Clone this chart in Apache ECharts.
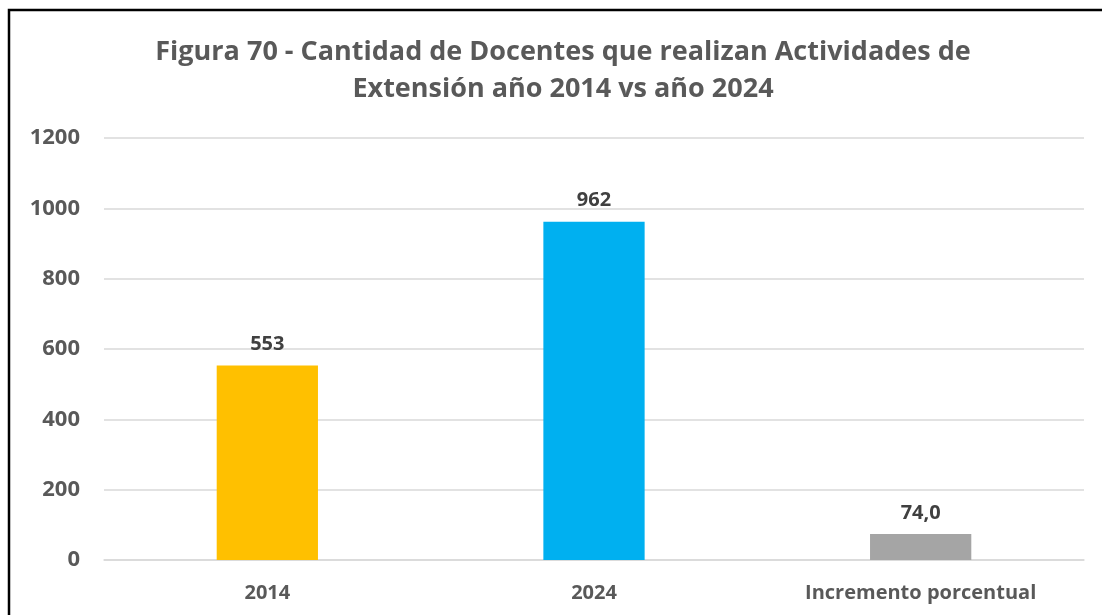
<!DOCTYPE html>
<html>
<head>
<meta charset="utf-8">
<script src="https://cdn.jsdelivr.net/npm/echarts@6/dist/echarts.min.js"></script>
<style>
  html, body { margin: 0; padding: 0; background: #fff; }
  #chart { width: 1102px; height: 615px; }
</style>
</head>
<body>
<div id="chart"></div>
<script>
// Docentes con actividades de extensión: 2014 vs 2024
const categories = ['2014', '2024', 'Incremento porcentual'];
const values = [553, 962, 74.0];
const valueLabels = ['553', '962', '74,0'];
const barColors = ['#FFC000', '#00B0F0', '#A5A5A5'];
const yTicks = [0, 200, 400, 600, 800, 1000, 1200];

const fontFamily = '"Open Sans", Lato, sans-serif';

const chart = echarts.init(document.getElementById('chart'));
chart.setOption({
  animation: false,
  backgroundColor: '#fff',
  title: {
    text: 'Figura 70 - Cantidad de Docentes que realizan Actividades de\nExtensión año 2014 vs año 2024',
    left: 558,
    textAlign: 'center',
    top: 29,
    textStyle: {
      fontFamily: fontFamily,
      fontSize: 27,
      fontWeight: 'bold',
      color: '#595959',
      lineHeight: 37
    }
  },
  graphic: [{
    type: 'rect',
    shape: { x: 9, y: 10, width: 1300, height: 800 },
    style: { fill: 'none', stroke: '#000', lineWidth: 2.5 },
    silent: true
  }],
  grid: { left: 104, right: 18, top: 138, bottom: 55, containLabel: false },
  xAxis: {
    type: 'category',
    data: categories,
    axisLine: { show: true, lineStyle: { color: '#d9d9d9', width: 1.5 } },
    axisTick: { show: false },
    axisLabel: {
      fontFamily: fontFamily,
      fontSize: 20,
      fontWeight: 'bold',
      color: '#595959',
      margin: 23
    }
  },
  yAxis: {
    type: 'value',
    min: yTicks[0],
    max: yTicks[yTicks.length - 1],
    interval: 200,
    axisLine: { show: false },
    axisTick: { show: false },
    splitLine: { lineStyle: { color: '#d9d9d9', width: 1.5 } },
    axisLabel: {
      fontFamily: fontFamily,
      fontSize: 22,
      fontWeight: 'bold',
      color: '#595959',
      margin: 24,
      formatter: v => String(v)
    }
  },
  series: [{
    type: 'bar',
    barWidth: '31%',
    data: values.map((v, i) => ({ value: v, itemStyle: { color: barColors[i] } })),
    label: {
      show: true,
      position: 'top',
      distance: 11,
      formatter: p => valueLabels[p.dataIndex],
      fontFamily: fontFamily,
      fontSize: 20,
      fontWeight: 'bold',
      color: '#404040'
    }
  }]
});
</script>
</body>
</html>
